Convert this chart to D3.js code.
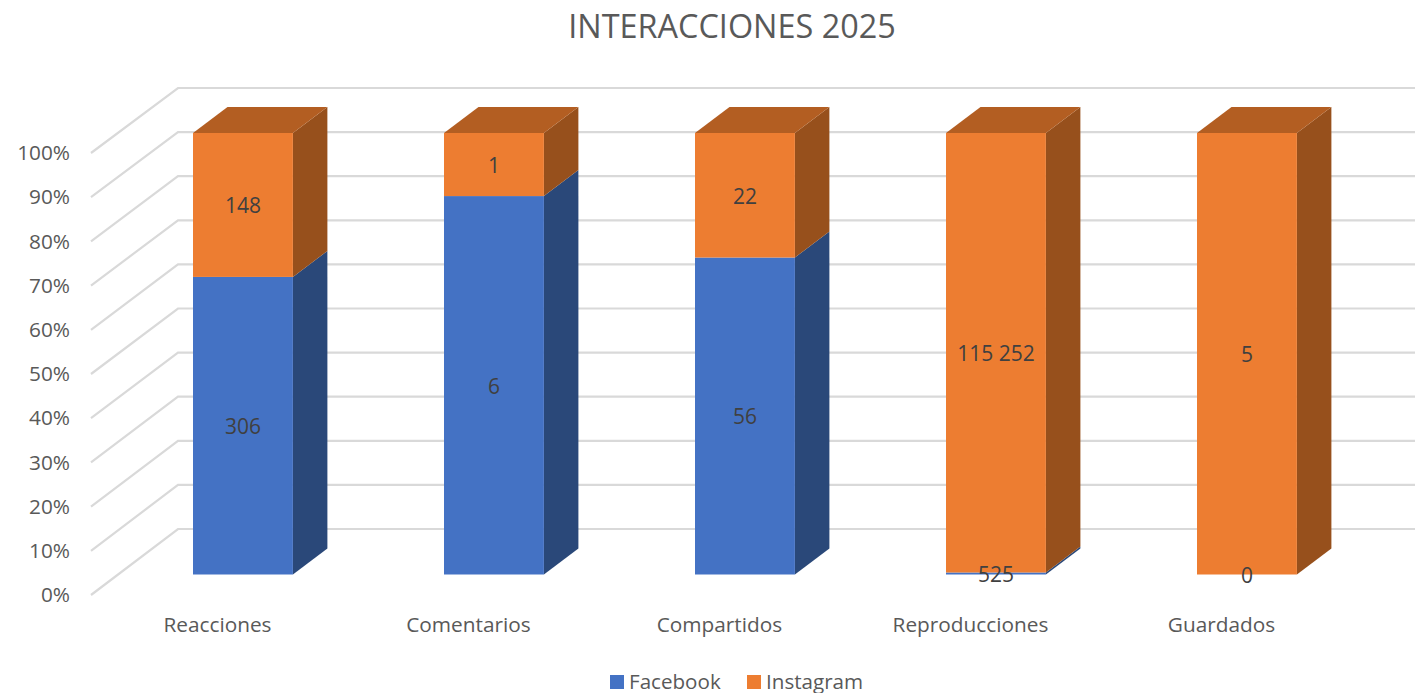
<!DOCTYPE html>
<html lang="es">
<head>
<meta charset="UTF-8">
<title>Interacciones 2025</title>
<script src="https://cdn.jsdelivr.net/npm/d3@7/dist/d3.min.js"></script>
<style>
    html, body { margin: 0; padding: 0; background: #fff; overflow: hidden; }
    text { font-family: "Open Sans", "Noto Sans", sans-serif; }
</style>
</head>
<body>
<svg id="svg"></svg>
<script>
    var WIDTH = 1415;
    var HEIGHT = 693;

    // Data
    var categories = ["Reacciones", "Comentarios", "Compartidos", "Reproducciones", "Guardados"];
    var facebook = [306, 6, 56, 525, 0];
    var instagram = [148, 1, 22, 115252, 5];
    var yTicks = [0, 0.1, 0.2, 0.3, 0.4, 0.5, 0.6, 0.7, 0.8, 0.9, 1];
    var seriesNames = ["Facebook", "Instagram"];

    // Colours per series: front, side, top
    var colors = {
        Facebook: { front: "#4472C4", side: "#2A4879", top: "#335A9B" },
        Instagram: { front: "#ED7D31", side: "#97501C", top: "#B35E22" }
    };

    // 3d depth of the bars
    var DX = 34.5;
    var DY = -26;

    var svg = d3.select("#svg")
                .attr("width", WIDTH)
                .attr("height", HEIGHT)
                .style("display", "block");

    var xScale = d3.scaleBand()
                   .domain(categories)
                   .range([117.7, 1372.2])
                   .paddingInner(0.602)
                   .paddingOuter(0.3);

    // bar front faces
    var yScale = d3.scaleLinear().domain([0, 1]).range([574.5, 133]);
    // left wall, front edge (where the tick labels sit)
    var yFront = d3.scaleLinear().domain([0, 1]).range([595, 153]);
    // back wall
    var yBack = d3.scaleLinear().domain([0, 1]).range([529, 88]);

    var pct = d3.format(".0%");

    svg.append("text")
       .attr("x", 732)
       .attr("y", 38)
       .attr("text-anchor", "middle")
       .attr("font-size", 32.4)
       .attr("fill", "#595959")
       .text("INTERACCIONES 2025");

    // Grid
    var grid = svg.append("g");
    grid.selectAll("path")
        .data(yTicks)
        .enter()
        .append("path")
        .attr("d", function(d){
            return "M91," + yFront(d) + "L178," + yBack(d) + "H" + WIDTH;
        })
        .attr("fill", "none")
        .attr("stroke", "#D9D9D9")
        .attr("stroke-width", 2.2);

    // Axes
    var yAxis = d3.axisLeft(yFront).tickValues(yTicks).tickFormat(pct).tickSize(0).tickPadding(0);
    var yG = svg.append("g")
                .attr("transform", "translate(70,0)")
                .call(yAxis);
    yG.select(".domain").remove();
    yG.selectAll("text")
      .attr("font-size", 20.8)
      .attr("fill", "#595959");

    var xAxis = d3.axisBottom(xScale).tickSize(0).tickPadding(0);
    var xG = svg.append("g")
                .attr("transform", "translate(-25.5,617)")
                .call(xAxis);
    xG.select(".domain").remove();
    xG.selectAll("text")
      .attr("font-size", 20.8)
      .attr("fill", "#595959");
    svg.selectAll("g").attr("font-family", null);

    // Bars
    var rows = categories.map(function(c, i){
        var total = facebook[i] + instagram[i];
        var split = facebook[i] / total;
        return [
            { cat: c, name: "Facebook", v: facebook[i], y0: 0, y1: split },
            { cat: c, name: "Instagram", v: instagram[i], y0: split, y1: 1 }
        ];
    });

    var bars = svg.append("g");
    rows.forEach(function(row){
        row.forEach(function(d){
            if (d.y1 <= d.y0) return;
            var x0 = xScale(d.cat);
            var x1 = x0 + xScale.bandwidth();
            var yb = yScale(d.y0);
            var yt = yScale(d.y1);
            var c = colors[d.name];
            var g = bars.append("g");
            g.append("path")
             .attr("d", "M" + x1 + "," + yb + "L" + (x1 + DX) + "," + (yb + DY) + "V" + (yt + DY) + "L" + x1 + "," + yt + "Z")
             .attr("fill", c.side);
            if (d.y1 === 1) {
                g.append("path")
                 .attr("d", "M" + x0 + "," + yt + "L" + (x0 + DX) + "," + (yt + DY) + "H" + (x1 + DX) + "L" + x1 + "," + yt + "Z")
                 .attr("fill", c.top);
            }
            g.append("rect")
             .attr("x", x0)
             .attr("y", yt)
             .attr("width", x1 - x0)
             .attr("height", Math.max(yb - yt, 1.5))
             .attr("fill", c.front);
        });
    });

    // Data labels
    var spaced = function(v){ return d3.format(",")(v).replace(/,/g, " "); };
    var labels = svg.append("g");
    rows.forEach(function(row){
        row.forEach(function(d){
            labels.append("text")
                  .attr("x", xScale(d.cat) + xScale.bandwidth() / 2)
                  .attr("y", yScale((d.y0 + d.y1) / 2) + 1)
                  .attr("dy", "0.35em")
                  .attr("text-anchor", "middle")
                  .attr("font-size", 21)
                  .attr("fill", "#404040")
                  .text(spaced(d.v));
        });
    });

    // Legend
    var legendX = d3.scaleOrdinal().domain(seriesNames).range([610, 747]);
    var legend = svg.append("g")
                    .selectAll("g")
                    .data(seriesNames)
                    .enter()
                    .append("g")
                    .attr("transform", function(d){ return "translate(" + legendX(d) + ",675)"; });
    legend.append("rect")
          .attr("width", 14)
          .attr("height", 14)
          .attr("fill", function(d){ return colors[d].front; });
    legend.append("text")
          .attr("x", 19)
          .attr("y", 13.5)
          .attr("font-size", 20.6)
          .attr("fill", "#595959")
          .text(function(d){ return d; });
</script>
</body>
</html>
